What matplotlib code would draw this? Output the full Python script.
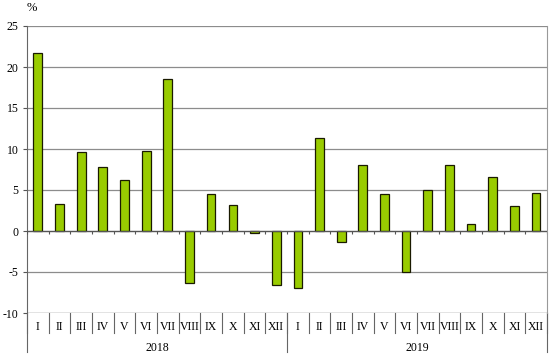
import matplotlib.pyplot as plt
import matplotlib.transforms as mtransforms
import numpy as np

plt.rcParams['font.family'] = ['Liberation Serif', 'DejaVu Serif']
plt.rcParams['axes.unicode_minus'] = False

months = ['I', 'II', 'III', 'IV', 'V', 'VI', 'VII', 'VIII', 'IX', 'X', 'XI', 'XII']
years = ['2018', '2019']
values_2018 = [21.7, 3.3, 9.6, 7.8, 6.2, 9.8, 18.5, -6.3, 4.5, 3.2, -0.3, -6.6]
values_2019 = [-7.0, 11.4, -1.4, 8.1, 4.5, -5.0, 5.0, 8.1, 0.8, 6.6, 3.0, 4.6]

values = values_2018 + values_2019
labels = months * len(years)
x = np.arange(len(values))

fig = plt.figure(figsize=(5.55, 3.64), dpi=100)
ax = fig.add_axes([27/555, 51/364, 520/555, 287/364])

ax.bar(x, values, width=0.4, color='#99cc00', edgecolor='#1a1a00', linewidth=0.9, zorder=3)

ax.set_xlim(-0.5, len(values) - 0.5)
ax.set_ylim(-10, 25)
ax.set_yticks(np.arange(-10, 26, 5))
ax.tick_params(axis='y', labelsize=8.5, length=3, width=0.8, color='#555555', pad=3)
ax.yaxis.grid(True, color='#8c8c8c', linewidth=0.9, zorder=0)
ax.set_xticks([])

for s in ['top', 'bottom']:
    ax.spines[s].set_visible(False)
ax.spines['left'].set_color('#666666')
ax.spines['right'].set_color('#999999')

# zero line with small ticks between categories
ax.axhline(0, color='#555555', linewidth=0.9, zorder=4)
bounds = np.arange(len(values) + 1) - 0.5
ax.vlines(bounds, -0.35, 0, color='#555555', linewidth=0.8, zorder=4)

# bottom of plot area
ax.axhline(-10, color='#8c8c8c', linewidth=0.9, zorder=1)

trans = mtransforms.blended_transform_factory(ax.transData, ax.transAxes)
# category cells
for b in bounds:
    ax.plot([b, b], [0, -20/287], transform=trans, color='#666666', linewidth=0.8, clip_on=False)
for xi, lab in zip(x, labels):
    ax.text(xi, -14/287, lab, transform=trans, ha='center', va='center', fontsize=8.5)

# year groups
n = len(months)
for i, yr in enumerate(years):
    ax.plot([i * n - 0.5, i * n - 0.5], [0, -39/287], transform=trans, color='#666666', linewidth=0.8, clip_on=False)
    ax.text(i * n + n / 2 - 0.5, -35/287, yr, transform=trans, ha='center', va='center', fontsize=8.5)
ax.plot([len(values) - 0.5] * 2, [0, -39/287], transform=trans, color='#666666', linewidth=0.8, clip_on=False)

fig.text(27/555, 1 - 8/364, '%', ha='left', va='center', fontsize=9)

fig.savefig('out.png', dpi=100)
